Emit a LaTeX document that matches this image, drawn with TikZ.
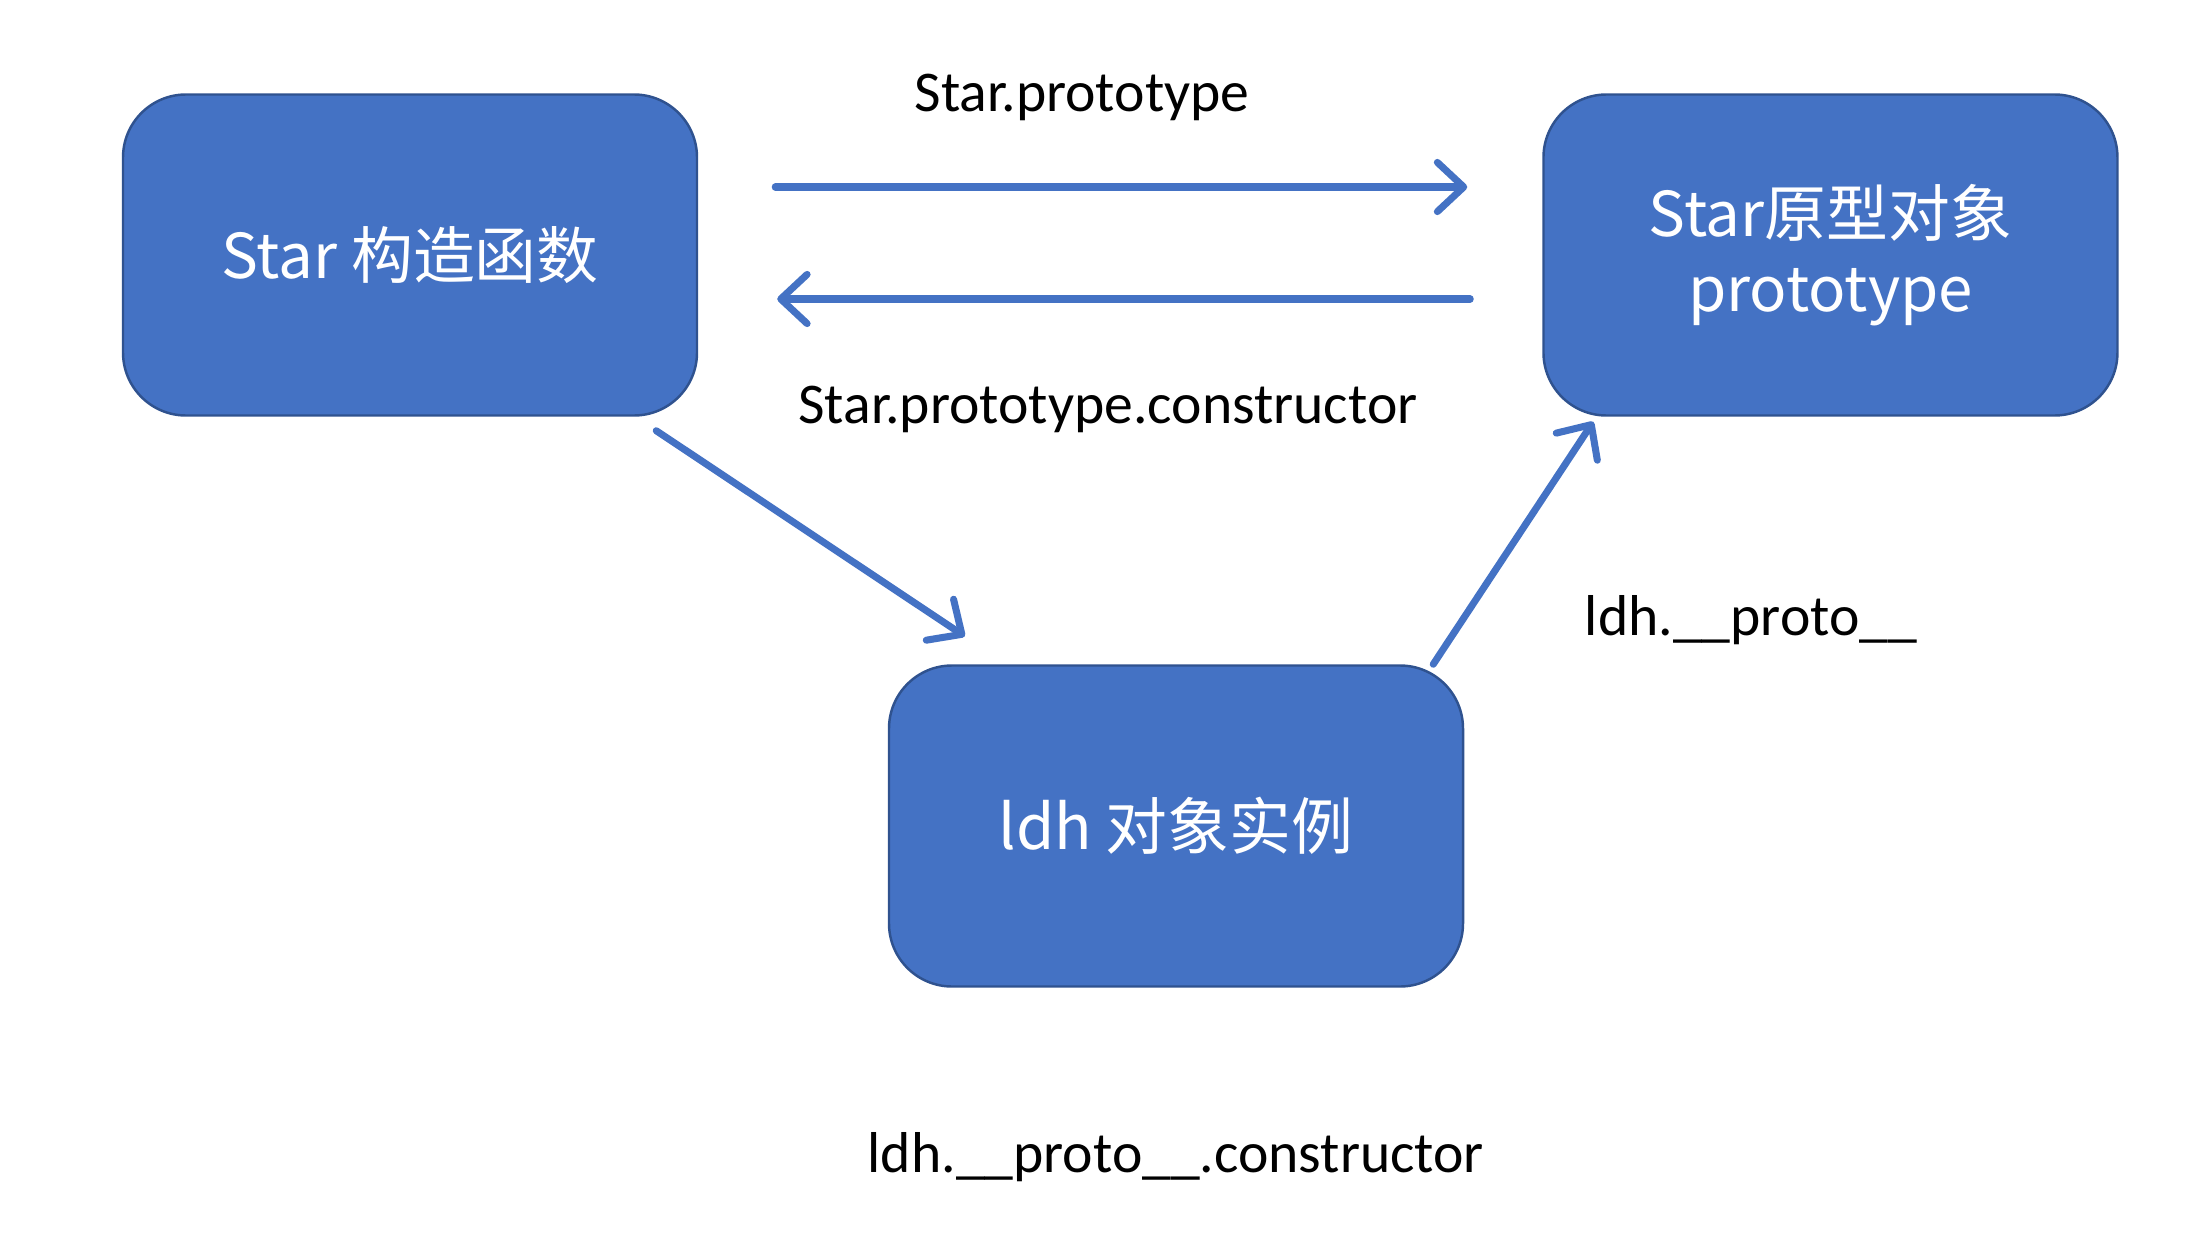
\documentclass[tikz,border=0pt]{standalone}
\usepackage{fontspec}
\setmainfont{Carlito}
\newfontfamily\cjk{Noto Sans CJK SC}
\usetikzlibrary{positioning, calc, arrows.meta}

\definecolor{boxblue}{HTML}{4472C4}
\definecolor{boxedge}{HTML}{2F528F}
\definecolor{linkblue}{HTML}{4472C4}

\tikzset{
    objbox/.style={rectangle, rounded corners=0.63cm, fill=boxblue, draw=boxedge,
        line width=0.7pt, minimum width=5.74cm, minimum height=3.21cm,
        text=white, align=center, font=\cjk\fontsize{17.6}{21.5}\selectfont},
    link/.style={draw=linkblue, line width=2pt, line cap=round, line join=round,
        -{Straight Barb[length=7.5pt, width=14pt, line cap=round, line join=round]}},
    lbl/.style={font=\fontsize{16.4}{19}\selectfont, inner sep=0pt}
}

\begin{document}
\begin{tikzpicture}

\useasboundingbox (0,0) rectangle (22,12.46);

% Define nodes
\node[objbox] (ctor) at (4.10,9.91) {Star 构造函数};
\node[objbox] (proto) [right=8.44cm of ctor] {Star原型对象\\prototype};
\node[objbox] (inst) at (11.76,4.20) {ldh 对象实例};

% Labels
\node[lbl] (protolbl) at (10.82,11.49) {Star.prototype};
\node[lbl] (ctorlbl) at (11.08,8.37) {Star.prototype.constructor};
\node[lbl] (dunderlbl) at (17.51,6.26) {ldh.\_\_proto\_\_};
\node[lbl] (instctorlbl) at (11.76,0.89) {ldh.\_\_proto\_\_.constructor};

% Horizontal edges
\draw[link, shorten <=0.77cm, shorten >=0.75cm]
    ([yshift=0.68cm]ctor.east) -- ([yshift=0.68cm]proto.west);
\draw[link, shorten <=0.72cm, shorten >=0.79cm]
    ([yshift=-0.44cm]proto.west) -- ([yshift=-0.44cm]ctor.east);

% Diagonal edges
\draw[link] ([xshift=-0.42cm, yshift=-0.14cm]ctor.south east)
    -- ([xshift=0.77cm, yshift=0.28cm]inst.north west);
\draw[link] ([xshift=-0.31cm]inst.north east)
    -- ([xshift=0.51cm, yshift=-0.05cm]proto.south west);

\end{tikzpicture}
\end{document}
